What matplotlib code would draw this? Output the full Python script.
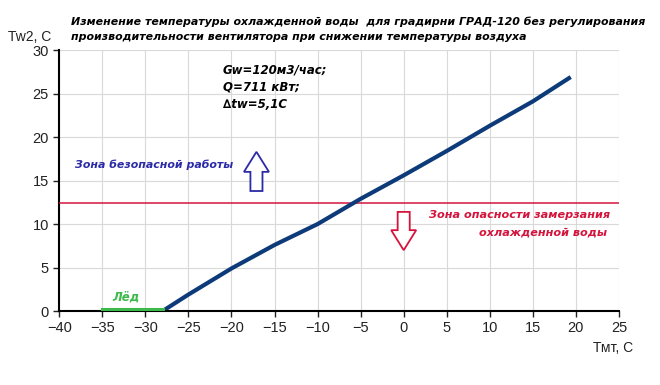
import matplotlib.pyplot as plt
from matplotlib.patches import FancyArrow

# данные кривой Tw2 = f(Tмт)
t_air = [-28, -25, -20, -15, -10, -5, 0, 5, 10, 15, 19.4]
t_water = [0, 1.9, 4.9, 7.6, 10.0, 12.9, 15.6, 18.4, 21.3, 24.1, 26.9]
ice_x = [-35, -28]
ice_y = [0.25, 0.25]
t_limit = 12.4
x_ticks = list(range(-40, 30, 5))
y_ticks = list(range(0, 35, 5))

title = ('Изменение температуры охлажденной воды  для градирни ГРАД-120 без регулирования\n'
         'производительности вентилятора при снижении температуры воздуха')
params = 'Gw=120м3/час;\nQ=711 кВт;\n∆tw=5,1C'

fig = plt.figure(figsize=(6.6, 3.85), dpi=100)
ax = fig.add_axes([0.0898, 0.192, 0.848, 0.678])

ax.grid(True, color='#d9d9d9', linewidth=0.8)
ax.set_axisbelow(True)
ax.plot(t_air, t_water, color='#0d3b7a', linewidth=3, solid_capstyle='butt', zorder=4)
ax.plot(ice_x, ice_y, color='#3cb94a', linewidth=2.2, zorder=6, clip_on=False)
ax.axhline(t_limit, color='#d4143c', linewidth=1.1, zorder=3)

ax.set_xlim(-40, 25)
ax.set_ylim(0, 30)
ax.set_xticks(x_ticks)
ax.set_yticks(y_ticks)
ax.tick_params(labelsize=10.5, length=4, width=1, colors='#222222')
for lab in ax.get_xticklabels() + ax.get_yticklabels():
    lab.set_family('Liberation Sans')
for s in ['top', 'right']:
    ax.spines[s].set_visible(False)
for s in ['left', 'bottom']:
    ax.spines[s].set_linewidth(1.5)
    ax.spines[s].set_color('black')
ax.spines['bottom'].set_zorder(5)

# стрелки
ax.add_patch(FancyArrow(-17.1, 13.8, 0, 4.5, width=1.4, head_width=2.9, head_length=2.3,
                        length_includes_head=True, facecolor='white', edgecolor='#2b2ba8',
                        linewidth=1.3, zorder=5))
ax.add_patch(FancyArrow(0, 11.4, 0, -4.4, width=1.4, head_width=2.9, head_length=2.3,
                        length_includes_head=True, facecolor='white', edgecolor='#d4143c',
                        linewidth=1.3, zorder=5))

ax.text(-21.0, 25.7, params, fontsize=8.5, fontweight='bold', style='italic',
        va='center', ha='left', linespacing=1.45, zorder=6)
ax.text(-38.2, 16.8, 'Зона безопасной работы', fontsize=7.9, fontweight='bold',
        style='italic', color='#2b2ba8', va='center', ha='left')
ax.text(24.0, 11.0, 'Зона опасности замерзания', fontsize=8.1, fontweight='bold',
        style='italic', color='#d4143c', va='center', ha='right')
ax.text(23.6, 9.0, 'охлажденной воды', fontsize=8.1, fontweight='bold',
        style='italic', color='#d4143c', va='center', ha='right')
ax.text(-32.3, 1.6, 'Лёд', fontsize=8.5, fontweight='bold', style='italic',
        color='#3cb94a', va='center', ha='center')

fig.text(0.107, 0.925, title, fontsize=7.95, fontweight='bold', style='italic',
         va='center', ha='left', linespacing=1.65)
fig.text(0.012, 0.905, 'Tw2, C', fontsize=10, family='Liberation Sans',
         va='center', ha='left', color='#222222')
fig.text(0.959, 0.096, 'Тмт, С', fontsize=10, family='Liberation Sans',
         va='center', ha='right', color='#222222')

fig.savefig('out.png', dpi=100)
